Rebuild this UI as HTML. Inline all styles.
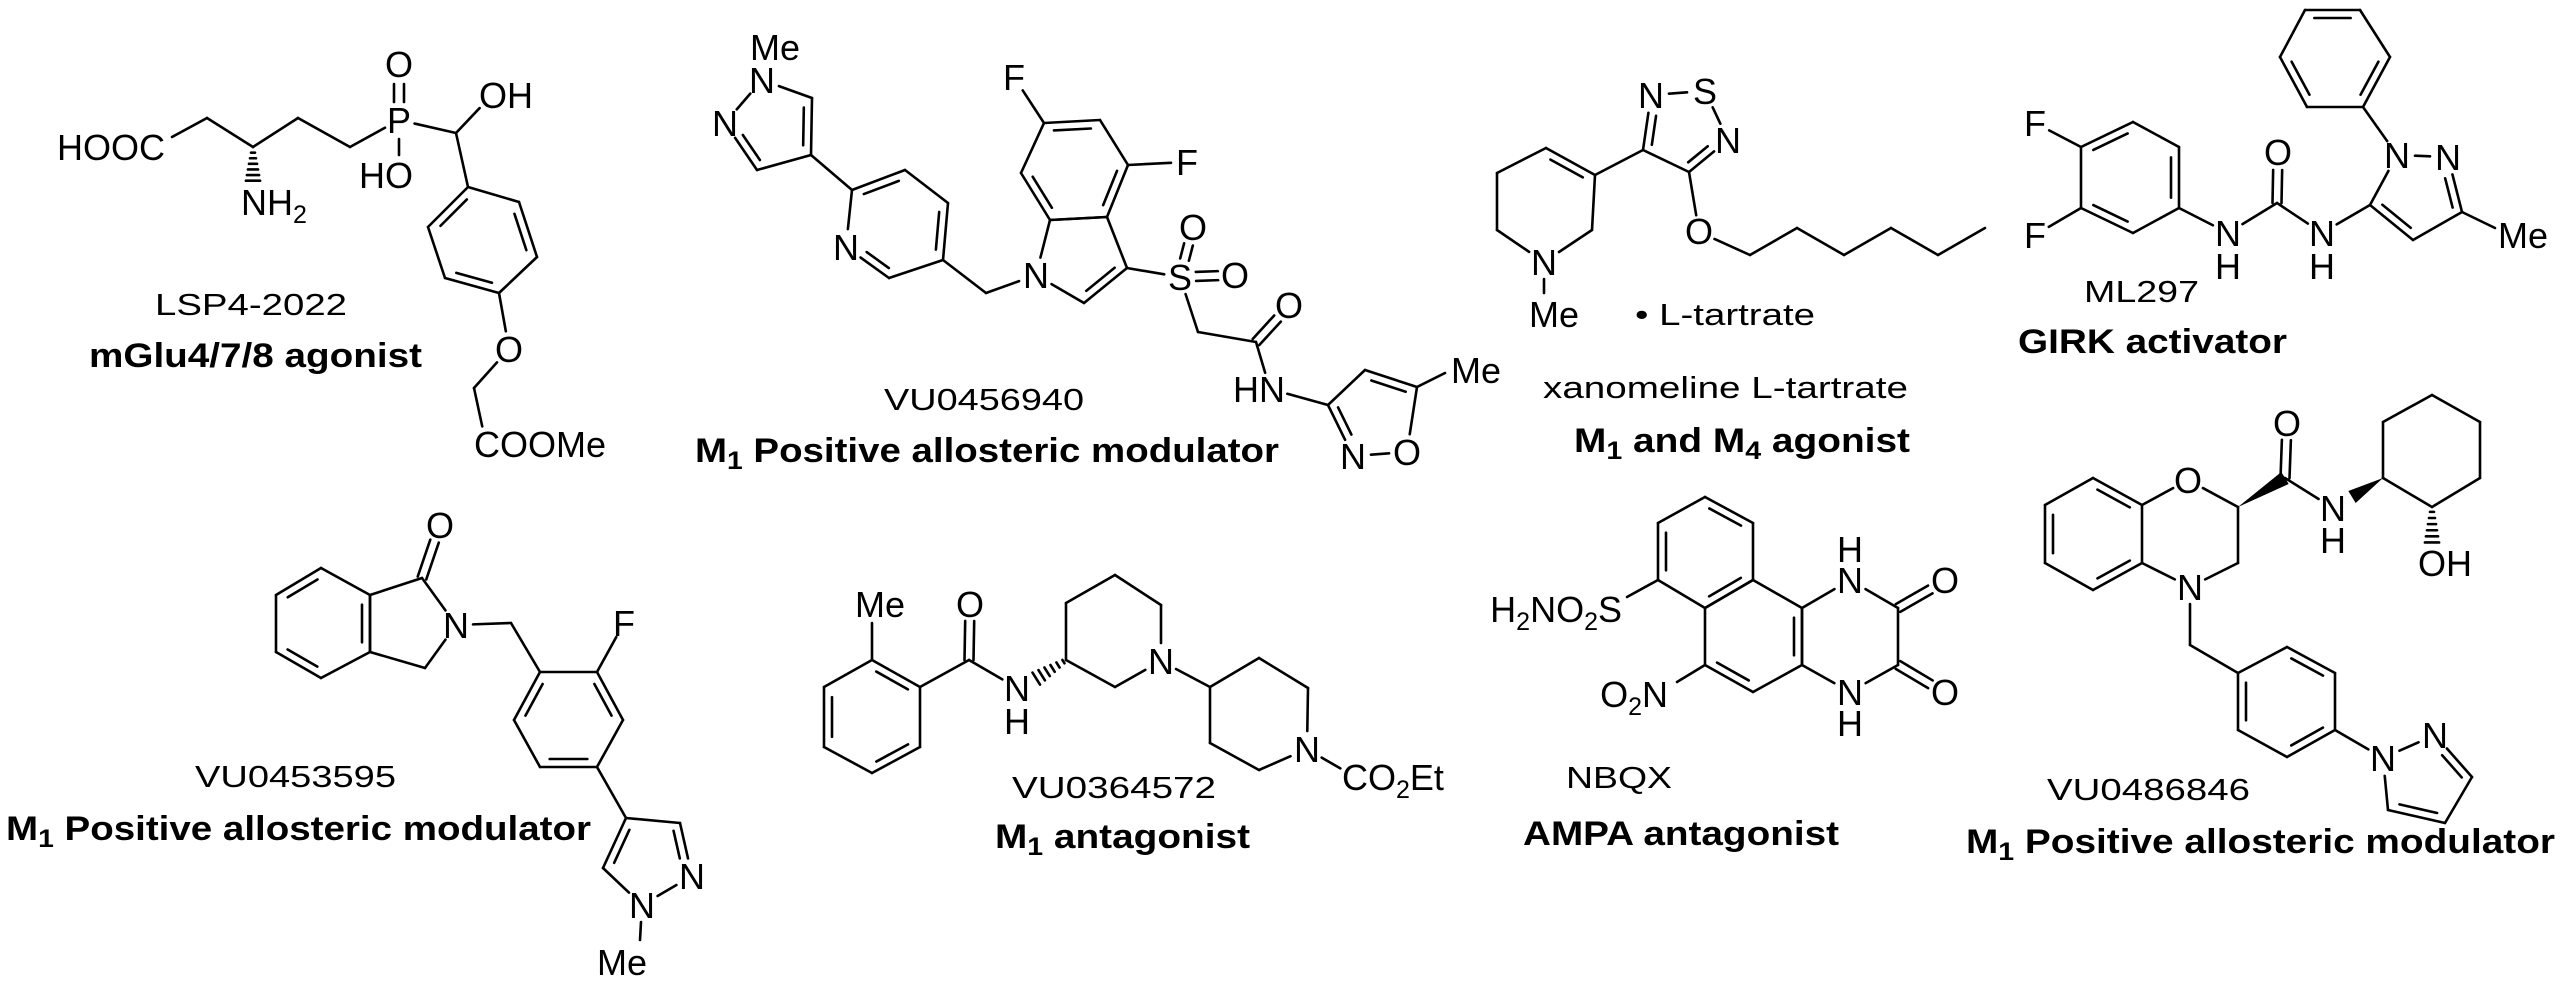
<!DOCTYPE html>
<html><head><meta charset="utf-8">
<style>
html,body{margin:0;padding:0;background:#fff;}
svg{display:block;}
.a{font-family:"Liberation Sans",Arial,sans-serif;font-size:36px;fill:#000;}
.s{font-size:25px;}
.n{font-family:"Liberation Sans",Arial,sans-serif;font-size:31px;fill:#000;}
.b{font-family:"Liberation Sans",Arial,sans-serif;font-size:34px;font-weight:bold;fill:#000;}
#b line{stroke:#000;stroke-width:2.6;stroke-linecap:round;}
#b polygon{fill:#000;}
</style></head>
<body>
<svg width="2560" height="983" viewBox="0 0 2560 983" xmlns="http://www.w3.org/2000/svg">
<rect width="2560" height="983" fill="#fff"/>
<g id="b"></g>
<g>
<!-- LSP4-2022 -->
<text class="a" x="57" y="160">HOOC</text>
<text class="a" x="399" y="133" text-anchor="middle">P</text>
<text class="a" x="399" y="77" text-anchor="middle">O</text>
<text class="a" x="359" y="188">HO</text>
<text class="a" x="479" y="108">OH</text>
<text class="a" x="509" y="362" text-anchor="middle">O</text>
<text class="a" x="474" y="457">COOMe</text>
<text class="a" x="241" y="215">NH<tspan class="s" dy="8">2</tspan></text>
<text class="n" x="155" y="315" textLength="192" lengthAdjust="spacingAndGlyphs">LSP4-2022</text>
<text class="b" x="89" y="367" textLength="333" lengthAdjust="spacingAndGlyphs">mGlu4/7/8 agonist</text>

<!-- VU0456940 -->
<text class="a" x="750" y="60">Me</text>
<text class="a" x="762" y="93" text-anchor="middle">N</text>
<text class="a" x="725" y="136" text-anchor="middle">N</text>
<text class="a" x="846" y="260" text-anchor="middle">N</text>
<text class="a" x="1036" y="288" text-anchor="middle">N</text>
<text class="a" x="1014" y="90" text-anchor="middle">F</text>
<text class="a" x="1187" y="175" text-anchor="middle">F</text>
<text class="a" x="1180" y="290" text-anchor="middle">S</text>
<text class="a" x="1193" y="240" text-anchor="middle">O</text>
<text class="a" x="1235" y="288" text-anchor="middle">O</text>
<text class="a" x="1289" y="318" text-anchor="middle">O</text>
<text class="a" x="1233" y="402">HN</text>
<text class="a" x="1407" y="465" text-anchor="middle">O</text>
<text class="a" x="1353" y="469" text-anchor="middle">N</text>
<text class="a" x="1451" y="383">Me</text>
<text class="n" x="884" y="410" textLength="200" lengthAdjust="spacingAndGlyphs">VU0456940</text>
<text class="b" x="695" y="462" textLength="584" lengthAdjust="spacingAndGlyphs">M<tspan class="s" dy="7">1</tspan><tspan dy="-7"> Positive allosteric modulator</tspan></text>

<!-- xanomeline -->
<text class="a" x="1651" y="108" text-anchor="middle">N</text>
<text class="a" x="1705" y="104" text-anchor="middle">S</text>
<text class="a" x="1728" y="153" text-anchor="middle">N</text>
<text class="a" x="1699" y="244" text-anchor="middle">O</text>
<text class="a" x="1544" y="275" text-anchor="middle">N</text>
<text class="a" x="1529" y="327">Me</text>
<text class="n" x="1635" y="325" textLength="180" lengthAdjust="spacingAndGlyphs">• L-tartrate</text>
<text class="n" x="1543" y="398" textLength="365" lengthAdjust="spacingAndGlyphs">xanomeline L-tartrate</text>
<text class="b" x="1574" y="452" textLength="336" lengthAdjust="spacingAndGlyphs">M<tspan class="s" dy="7">1</tspan><tspan dy="-7"> and M</tspan><tspan class="s" dy="7">4</tspan><tspan dy="-7"> agonist</tspan></text>

<!-- ML297 -->
<text class="a" x="2035" y="136" text-anchor="middle">F</text>
<text class="a" x="2035" y="248" text-anchor="middle">F</text>
<text class="a" x="2228" y="246" text-anchor="middle">N</text>
<text class="a" x="2228" y="279" text-anchor="middle">H</text>
<text class="a" x="2278" y="165" text-anchor="middle">O</text>
<text class="a" x="2322" y="246" text-anchor="middle">N</text>
<text class="a" x="2322" y="279" text-anchor="middle">H</text>
<text class="a" x="2397" y="168" text-anchor="middle">N</text>
<text class="a" x="2448" y="170" text-anchor="middle">N</text>
<text class="a" x="2498" y="248">Me</text>
<text class="n" x="2084" y="302" textLength="115" lengthAdjust="spacingAndGlyphs">ML297</text>
<text class="b" x="2018" y="353" textLength="269" lengthAdjust="spacingAndGlyphs">GIRK activator</text>

<!-- VU0453595 -->
<text class="a" x="440" y="538" text-anchor="middle">O</text>
<text class="a" x="456" y="638" text-anchor="middle">N</text>
<text class="a" x="624" y="636" text-anchor="middle">F</text>
<text class="a" x="692" y="889" text-anchor="middle">N</text>
<text class="a" x="642" y="918" text-anchor="middle">N</text>
<text class="a" x="597" y="975">Me</text>
<text class="n" x="195" y="787" textLength="201" lengthAdjust="spacingAndGlyphs">VU0453595</text>
<text class="b" x="6" y="840" textLength="585" lengthAdjust="spacingAndGlyphs">M<tspan class="s" dy="7">1</tspan><tspan dy="-7"> Positive allosteric modulator</tspan></text>

<!-- VU0364572 -->
<text class="a" x="855" y="617">Me</text>
<text class="a" x="970" y="617" text-anchor="middle">O</text>
<text class="a" x="1017" y="701" text-anchor="middle">N</text>
<text class="a" x="1017" y="734" text-anchor="middle">H</text>
<text class="a" x="1161" y="674" text-anchor="middle">N</text>
<text class="a" x="1307" y="762" text-anchor="middle">N</text>
<text class="a" x="1342" y="790">CO<tspan class="s" dy="8">2</tspan><tspan dy="-8">Et</tspan></text>
<text class="n" x="1012" y="798" textLength="204" lengthAdjust="spacingAndGlyphs">VU0364572</text>
<text class="b" x="995" y="848" textLength="255" lengthAdjust="spacingAndGlyphs">M<tspan class="s" dy="7">1</tspan><tspan dy="-7"> antagonist</tspan></text>

<!-- NBQX -->
<text class="a" x="1622" y="622" text-anchor="end">H<tspan class="s" dy="8">2</tspan><tspan dy="-8">NO</tspan><tspan class="s" dy="8">2</tspan><tspan dy="-8">S</tspan></text>
<text class="a" x="1668" y="707" text-anchor="end">O<tspan class="s" dy="8">2</tspan><tspan dy="-8">N</tspan></text>
<text class="a" x="1850" y="562" text-anchor="middle">H</text>
<text class="a" x="1850" y="593" text-anchor="middle">N</text>
<text class="a" x="1850" y="705" text-anchor="middle">N</text>
<text class="a" x="1850" y="736" text-anchor="middle">H</text>
<text class="a" x="1945" y="593" text-anchor="middle">O</text>
<text class="a" x="1945" y="705" text-anchor="middle">O</text>
<text class="n" x="1566" y="788" textLength="106" lengthAdjust="spacingAndGlyphs">NBQX</text>
<text class="b" x="1523" y="845" textLength="316" lengthAdjust="spacingAndGlyphs">AMPA antagonist</text>

<!-- VU0486846 -->
<text class="a" x="2188" y="493" text-anchor="middle">O</text>
<text class="a" x="2190" y="600" text-anchor="middle">N</text>
<text class="a" x="2287" y="436" text-anchor="middle">O</text>
<text class="a" x="2333" y="521" text-anchor="middle">N</text>
<text class="a" x="2333" y="553" text-anchor="middle">H</text>
<text class="a" x="2445" y="576" text-anchor="middle">OH</text>
<text class="a" x="2383" y="771" text-anchor="middle">N</text>
<text class="a" x="2435" y="748" text-anchor="middle">N</text>
<text class="n" x="2047" y="800" textLength="203" lengthAdjust="spacingAndGlyphs">VU0486846</text>
<text class="b" x="1966" y="853" textLength="589" lengthAdjust="spacingAndGlyphs">M<tspan class="s" dy="7">1</tspan><tspan dy="-7"> Positive allosteric modulator</tspan></text>
</g>
</svg>
<script>
const NS='http://www.w3.org/2000/svg',G=document.getElementById('b');
function el(t,a){const e=document.createElementNS(NS,t);for(const k in a)e.setAttribute(k,a[k]);G.appendChild(e);return e}
function L(x1,y1,x2,y2){el('line',{x1:x1,y1:y1,x2:x2,y2:y2})}
function P(p){for(let i=0;i<p.length-1;i++)L(p[i][0],p[i][1],p[i+1][0],p[i+1][1])}
function sh(p,q,d){const dx=q[0]-p[0],dy=q[1]-p[1],l=Math.hypot(dx,dy);return [p[0]+dx/l*d,p[1]+dy/l*d]}
function LB(x1,y1,x2,y2,t1,t2){let p=[x1,y1],q=[x2,y2];if(t1)p=sh(p,[x2,y2],t1);if(t2)q=sh(q,[x1,y1],t2);L(p[0],p[1],q[0],q[1])}
function DB(x1,y1,x2,y2,t1,t2,o){o=o||4.5;let p=[x1,y1],q=[x2,y2];if(t1)p=sh(p,[x2,y2],t1);if(t2)q=sh(q,[x1,y1],t2);
 const dx=q[0]-p[0],dy=q[1]-p[1],l=Math.hypot(dx,dy),nx=-dy/l*o,ny=dx/l*o;
 L(p[0]+nx,p[1]+ny,q[0]+nx,q[1]+ny);L(p[0]-nx,p[1]-ny,q[0]-nx,q[1]-ny)}
function R(pts,d,T){T=T||18;const n=pts.length;let cx=0,cy=0;pts.forEach(p=>{cx+=p[0];cy+=p[1]});cx/=n;cy/=n;
 for(let i=0;i<n;i++){const a=pts[i],b=pts[(i+1)%n];let p=[a[0],a[1]],q=[b[0],b[1]];
  if(a[2])p=sh(p,[b[0],b[1]],T);if(b[2])q=sh(q,[a[0],a[1]],T);L(p[0],p[1],q[0],q[1]);
  if(d.includes(i)){const dx=q[0]-p[0],dy=q[1]-p[1],l=Math.hypot(dx,dy);let nx=-dy/l,ny=dx/l;
   const mx=(p[0]+q[0])/2,my=(p[1]+q[1])/2;if((cx-mx)*nx+(cy-my)*ny<0){nx=-nx;ny=-ny}
   const o=8,s1=a[2]?0.05:0.17,s2=b[2]?0.05:0.17;
   L(p[0]+dx*s1+nx*o,p[1]+dy*s1+ny*o,q[0]-dx*s2+nx*o,q[1]-dy*s2+ny*o)}}}
function H(x1,y1,x2,y2){const dx=x2-x1,dy=y2-y1,l=Math.hypot(dx,dy),nx=-dy/l,ny=dx/l;
 for(let i=0;i<6;i++){const t=0.08+i*0.17,w=1.5+t*6,x=x1+dx*t,y=y1+dy*t;L(x+nx*w,y+ny*w,x-nx*w,y-ny*w)}}
function W(x1,y1,x2,y2,w){w=w||7;const dx=x2-x1,dy=y2-y1,l=Math.hypot(dx,dy),nx=-dy/l*w,ny=dx/l*w;
 el('polygon',{points:x1+','+y1+' '+(x2+nx)+','+(y2+ny)+' '+(x2-nx)+','+(y2-ny)})}

/* LSP4-2022 */
P([[172,137],[207,118],[253,147],[298,118],[350,147]]);LB(350,147,399,120,0,16);
DB(399,84,399,102,0,0,5);L(399,139,399,155);
LB(399,120,456,133,16,0);LB(456,133,492,95,0,18);L(456,133,468,187);
R([[468,187],[519,202],[537,257],[499,293],[445,278],[428,227]],[5,1,3]);
LB(499,293,509,349,0,18);LB(509,349,474,388,18,0);LB(474,388,486,444,0,18);
H(253,150,253,183);

/* VU0456940 */
R([[762,80,1],[812,98],[811,155],[757,170],[725,123,1]],[1,3]);
L(811,155,852,190);
R([[852,190],[905,170],[948,203],[943,260],[889,278],[846,247,1]],[0,2,4]);
L(943,260,986,293);LB(986,293,1036,275,0,18);
R([[1036,275,1],[1084,303],[1127,268],[1107,217],[1050,220]],[1]);
R([[1050,220],[1021,173],[1044,123],[1100,120],[1128,165],[1107,217]],[0,2,4]);
LB(1044,123,1014,77,0,16);LB(1128,165,1187,162,0,16);
LB(1127,268,1180,277,0,16);
DB(1180,277,1193,227,18,18);DB(1180,277,1235,275,16,17);
LB(1180,277,1198,332,18,0);L(1198,332,1256,342);DB(1256,342,1289,306,0,17);
LB(1256,342,1270,389,0,17);LB(1270,389,1328,405,18,0);
R([[1328,405],[1365,370],[1417,387],[1407,452,1],[1353,456,1]],[1,4]);
L(1417,387,1445,373);

/* xanomeline */
R([[1651,95,1],[1705,91,1],[1728,140,1],[1689,172],[1643,150]],[2,4]);
LB(1689,172,1699,232,0,17);LB(1699,232,1750,255,17,0);
P([[1750,255],[1797,228],[1844,255],[1891,228],[1938,255],[1985,228]]);
L(1643,150,1595,175);
R([[1595,175],[1546,148],[1497,173],[1497,230],[1544,262,1],[1592,230]],[0]);
L(1544,279,1544,293);

/* ML297 */
R([[2081,147],[2133,122],[2179,147],[2179,208],[2133,233],[2081,208]],[0,2,4]);
LB(2081,147,2035,123,0,16);LB(2081,208,2035,235,0,16);
LB(2179,208,2228,233,0,17);LB(2228,233,2277,203,17,0);DB(2277,203,2278,152,0,18);
LB(2277,203,2322,233,0,17);LB(2322,233,2370,205,17,0);
R([[2370,205],[2397,155,1],[2448,157,1],[2462,212],[2413,240]],[2,4]);
L(2462,212,2495,228);
LB(2397,155,2363,107,17,0);
R([[2363,107],[2307,107],[2280,57],[2305,10],[2360,10],[2390,57]],[1,3,5]);

/* VU0453595 */
R([[321,568],[370,595],[370,652],[321,678],[276,652],[276,595]],[5,1,3]);
R([[370,595],[422,578],[456,625,1],[425,668],[370,652]],[]);
DB(422,578,440,525,0,17);
LB(456,625,511,623,17,0);L(511,623,540,672);
R([[540,672],[597,672],[623,720],[597,767],[540,767],[514,720]],[1,3,5]);
LB(597,672,624,623,0,16);
L(597,767,626,818);
R([[626,818],[680,823],[692,876,1],[642,905,1],[603,868]],[1,4]);
L(641,922,640,940);

/* VU0364572 */
L(872,623,872,660);
R([[872,660],[920,687],[920,747],[872,773],[824,747],[824,687]],[0,2,4]);
L(920,687,969,660);DB(969,660,970,604,0,17);
LB(969,660,1017,688,0,17);
H(1066,660,1034,680);
R([[1066,660],[1066,603],[1115,575],[1161,605],[1161,661,1],[1115,687]],[]);
LB(1161,661,1210,687,17,0);
R([[1210,687],[1259,658],[1308,688],[1307,749,1],[1259,770],[1210,743]],[]);
LB(1307,749,1355,777,17,17);

/* NBQX */
R([[1658,523],[1705,497],[1753,523],[1753,580],[1705,608],[1658,580]],[1,3,5]);
R([[1705,608],[1753,580],[1802,608],[1802,665],[1753,692],[1705,665]],[2,4]);
R([[1802,608],[1850,580,1],[1898,608],[1898,665],[1850,692,1],[1802,665]],[]);
DB(1898,608,1945,581,0,17);DB(1898,665,1945,693,0,17);
L(1658,580,1627,597);L(1705,665,1677,682);

/* VU0486846 */
R([[2093,478],[2142,505],[2142,563],[2093,590],[2045,563],[2045,505]],[0,2,4]);
LB(2142,505,2188,480,0,17);LB(2188,480,2238,507,17,0);L(2238,507,2238,563);
LB(2238,563,2190,587,0,17);LB(2142,563,2190,587,0,17);
W(2238,507,2285,478,7);DB(2285,478,2287,423,0,17);
LB(2285,478,2333,508,0,17);
W(2383,478,2352,497,7);
R([[2383,478],[2383,422],[2432,395],[2480,422],[2480,478],[2432,507]],[]);
H(2432,509,2432,545);
LB(2190,587,2190,645,17,0);L(2190,645,2238,673);
R([[2238,673],[2287,647],[2335,673],[2335,730],[2287,757],[2238,730]],[1,3,5]);
LB(2335,730,2383,758,0,17);
R([[2383,758,1],[2435,735,1],[2472,777],[2445,823],[2388,810]],[1,3]);
</script>
</body></html>
